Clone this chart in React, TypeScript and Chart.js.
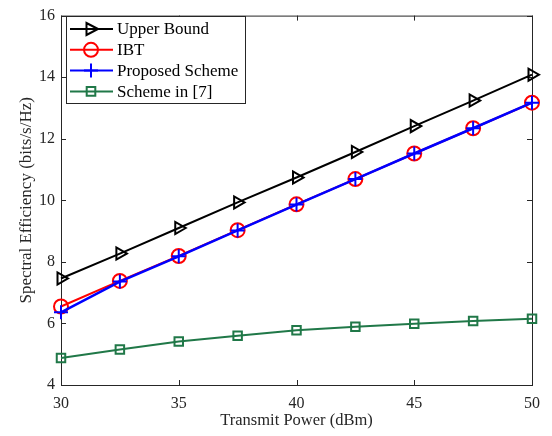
import React, { useEffect, useRef } from "react";
import { Chart, registerables } from "chart.js";

Chart.register(...registerables);

const xValues = [30, 32.5, 35, 37.5, 40, 42.5, 45, 47.5, 50];
const upperBound = [7.46, 8.27, 9.1, 9.93, 10.74, 11.57, 12.41, 13.24, 14.08];
const ibt = [6.55, 7.38, 8.19, 9.03, 9.87, 10.69, 11.52, 12.34, 13.17];
const proposed = [6.36, 7.36, 8.18, 9.02, 9.86, 10.69, 11.52, 12.34, 13.17];
const scheme7 = [4.88, 5.15, 5.41, 5.6, 5.78, 5.89, 5.99, 6.08, 6.15];
const xTicks = [30, 35, 40, 45, 50];
const yTicks = [4, 6, 8, 10, 12, 14, 16];
const seriesNames = ["Upper Bound", "IBT", "Proposed Scheme", "Scheme in [7]"];

const FONT = "'Liberation Serif', 'Times New Roman', serif";
const AXIS = "#262626";
const GREEN = "#207848";

function drawMarker(ctx: CanvasRenderingContext2D, kind: string, x: number, y: number, color: string) {
  ctx.save();
  ctx.strokeStyle = color;
  ctx.lineWidth = 2;
  ctx.beginPath();
  if (kind === "tri") {
    ctx.moveTo(x + 7, y);
    ctx.lineTo(x - 4.5, y - 6);
    ctx.lineTo(x - 4.5, y + 6);
    ctx.closePath();
  } else if (kind === "circle") {
    ctx.arc(x, y, 7, 0, Math.PI * 2);
  } else if (kind === "cross") {
    ctx.moveTo(x - 7, y);
    ctx.lineTo(x + 7, y);
    ctx.moveTo(x, y - 7);
    ctx.lineTo(x, y + 7);
  } else {
    ctx.rect(x - 4.3, y - 4.3, 8.6, 8.6);
  }
  ctx.stroke();
  ctx.restore();
}

const framePlugin = {
  id: "frame",
  beforeDatasetsDraw(chart: any) {
    const { ctx, chartArea: a, scales } = chart;
    ctx.save();
    ctx.strokeStyle = AXIS;
    ctx.lineWidth = 1;
    ctx.strokeRect(a.left + 0.5, a.top + 0.5, a.right - a.left, a.bottom - a.top);
    ctx.beginPath();
    const tl = 5;
    xTicks.forEach((v) => {
      const px = Math.round(scales.x.getPixelForValue(v)) + 0.5;
      ctx.moveTo(px, a.bottom);
      ctx.lineTo(px, a.bottom - tl);
      ctx.moveTo(px, a.top);
      ctx.lineTo(px, a.top + tl);
    });
    yTicks.forEach((v) => {
      const py = Math.round(scales.y.getPixelForValue(v)) + 0.5;
      ctx.moveTo(a.left, py);
      ctx.lineTo(a.left + tl, py);
      ctx.moveTo(a.right, py);
      ctx.lineTo(a.right - tl, py);
    });
    ctx.stroke();
    ctx.restore();
  },
};

const legendPlugin = {
  id: "boxLegend",
  afterDraw(chart: any) {
    const { ctx } = chart;
    const items = [
      { name: seriesNames[0], color: "#000000", kind: "tri" },
      { name: seriesNames[1], color: "#ff0000", kind: "circle" },
      { name: seriesNames[2], color: "#0000ff", kind: "cross" },
      { name: seriesNames[3], color: GREEN, kind: "rect" },
    ];
    const x0 = 66, y0 = 16, w = 179, h = 87;
    ctx.save();
    ctx.fillStyle = "#ffffff";
    ctx.fillRect(x0, y0, w, h);
    ctx.strokeStyle = AXIS;
    ctx.lineWidth = 1;
    ctx.strokeRect(x0 + 0.5, y0 + 0.5, w, h);
    ctx.font = `17px ${FONT}`;
    ctx.textBaseline = "middle";
    ctx.textAlign = "left";
    items.forEach((it, i) => {
      const y = 29 + i * 20.8;
      ctx.strokeStyle = it.color;
      ctx.lineWidth = 2;
      ctx.beginPath();
      ctx.moveTo(70, y);
      ctx.lineTo(113, y);
      ctx.stroke();
      drawMarker(ctx, it.kind, 91, y, it.color);
      ctx.fillStyle = "#000000";
      ctx.fillText(it.name, 117, y + 1);
    });
    ctx.restore();
  },
};

export default function App() {
  const ref = useRef<HTMLCanvasElement | null>(null);
  useEffect(() => {
    document.body.style.margin = "0";
    const mk = (data: number[]) => data.map((y, i) => ({ x: xValues[i], y }));
    const chart = new Chart(ref.current as HTMLCanvasElement, {
      type: "line",
      data: {
        datasets: [
          {
            label: seriesNames[0],
            data: mk(upperBound),
            borderColor: "#000000",
            backgroundColor: "transparent",
            borderWidth: 2,
            pointStyle: "triangle",
            rotation: 90,
            pointRadius: 7,
            pointBorderWidth: 2,
            pointBorderColor: "#000000",
            pointBackgroundColor: "transparent",
            order: 3,
          },
          {
            label: seriesNames[1],
            data: mk(ibt),
            borderColor: "#ff0000",
            backgroundColor: "transparent",
            borderWidth: 2,
            pointStyle: "circle",
            pointRadius: 7,
            pointBorderWidth: 2,
            pointBorderColor: "#ff0000",
            pointBackgroundColor: "transparent",
            order: 2,
          },
          {
            label: seriesNames[2],
            data: mk(proposed),
            borderColor: "#0000ff",
            backgroundColor: "transparent",
            borderWidth: 2.5,
            pointStyle: "cross",
            pointRadius: 7,
            pointBorderWidth: 2,
            pointBorderColor: "#0000ff",
            pointBackgroundColor: "transparent",
            order: 1,
          },
          {
            label: seriesNames[3],
            data: mk(scheme7),
            borderColor: GREEN,
            backgroundColor: "transparent",
            borderWidth: 2,
            pointStyle: "rect",
            pointRadius: 6,
            pointBorderWidth: 2,
            pointBorderColor: GREEN,
            pointBackgroundColor: "transparent",
            order: 4,
          },
        ],
      },
      options: {
        animation: false,
        responsive: false,
        maintainAspectRatio: false,
        layout: { padding: { top: 11, right: 20, left: 0, bottom: 0 } },
        elements: { line: { tension: 0 } },
        plugins: { legend: { display: false }, tooltip: { enabled: false } },
        datasets: { line: { clip: false } as any },
        scales: {
          x: {
            type: "linear",
            min: 30,
            max: 50,
            afterBuildTicks: (axis: any) => {
              axis.ticks = xTicks.map((v) => ({ value: v }));
            },
            afterFit: (axis: any) => {
              axis.height = 51;
            },
            grid: { display: false, drawTicks: false },
            border: { display: false },
            ticks: {
              color: "#262626",
              font: { family: FONT, size: 16 },
              padding: 9,
              maxRotation: 0,
              autoSkip: false,
            },
            title: {
              display: true,
              text: "Transmit Power (dBm)",
              color: "#262626",
              font: { family: FONT, size: 16.5 },
              padding: { top: 0, bottom: 5 },
            },
          },
          y: {
            type: "linear",
            min: 4,
            max: 16,
            afterBuildTicks: (axis: any) => {
              axis.ticks = yTicks.map((v) => ({ value: v }));
            },
            afterFit: (axis: any) => {
              axis.width = 61;
            },
            grid: { display: false, drawTicks: false },
            border: { display: false },
            ticks: {
              color: "#262626",
              font: { family: FONT, size: 16 },
              padding: 6,
              autoSkip: false,
            },
            title: {
              display: true,
              text: "Spectral Efficiency (bits/s/Hz)",
              color: "#262626",
              font: { family: FONT, size: 17 },
              padding: { top: 16, bottom: 0 },
            },
          },
        },
      },
      plugins: [framePlugin, legendPlugin],
    });
    return () => chart.destroy();
  }, []);
  return (
    <div style={{ width: 552, height: 436 }}>
      <canvas ref={ref} width={552} height={436} style={{ display: "block" }} />
    </div>
  );
}
